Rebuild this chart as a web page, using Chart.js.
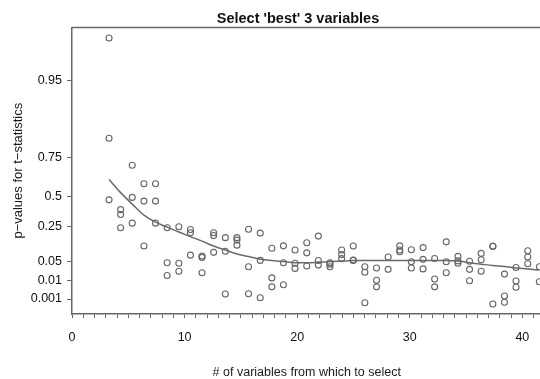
<!DOCTYPE html>
<html>
<head>
<meta charset="utf-8">
<script src="https://cdn.jsdelivr.net/npm/chart.js@4.4.1/dist/chart.umd.min.js"></script>
<style>
  html, body { margin: 0; padding: 0; background: #fff; overflow: hidden; }
  #wrap { width: 596px; height: 379px; }
</style>
</head>
<body>
<div id="wrap"><canvas id="mygraph" width="596" height="379"></canvas></div>
<script>
// number of candidate variables, one column of points each (as placed in the plot)
let nVars = [3.29, 4.32, 5.35, 6.39, 7.42, 8.45, 9.49, 10.52, 11.55, 12.58,
  13.62, 14.65, 15.68, 16.72, 17.75, 18.78, 19.81, 20.85, 21.88, 22.91,
  23.95, 24.98, 26.01, 27.05, 28.08, 29.11, 30.14, 31.18, 32.21, 33.24,
  34.28, 35.31, 36.34, 37.38, 38.41, 39.44, 40.48, 41.51];

// p-values of the 3 selected variables, per column
let pValues = [
  [0.99, 0.80, 0.47], [0.39, 0.35, 0.245], [0.70, 0.49, 0.28], [0.58, 0.46, 0.14],
  [0.58, 0.46, 0.28], [0.245, 0.048, 0.021], [0.25, 0.047, 0.030], [0.235, 0.216, 0.088],
  [0.083, 0.075, 0.027], [0.216, 0.20, 0.104], [0.188, 0.11, 0.0035], [0.188, 0.174, 0.145],
  [0.236, 0.0395, 0.0036], [0.214, 0.058, 0.0016], [0.127, 0.016, 0.007], [0.141, 0.048, 0.008],
  [0.117, 0.047, 0.036], [0.159, 0.101, 0.041], [0.197, 0.057, 0.043], [0.048, 0.045, 0.0395],
  [0.117, 0.091, 0.068], [0.14, 0.06, 0.058], [0.0395, 0.028, 0.00075], [0.037, 0.011, 0.007],
  [0.077, 0.034], [0.141, 0.117, 0.107], [0.119, 0.05, 0.037], [0.131, 0.064, 0.035],
  [0.069, 0.0136, 0.007], [0.164, 0.05, 0.027], [0.081, 0.055, 0.047], [0.053, 0.034, 0.01],
  [0.098, 0.062, 0.030], [0.14, 0.137, 0.00067], [0.024, 0.0025, 0.00078], [0.038, 0.0099, 0.0068],
  [0.113, 0.077, 0.046], [0.0395, 0.0095]
];

// smooth fitted curve through the columns
let fitted = [0.608, 0.523, 0.435, 0.345, 0.288, 0.248, 0.22, 0.194, 0.168, 0.14,
  0.117, 0.094, 0.080, 0.065, 0.057, 0.051, 0.048, 0.048, 0.049, 0.051,
  0.054, 0.057, 0.058, 0.058, 0.058, 0.058, 0.058, 0.058, 0.058, 0.058,
  0.054, 0.048, 0.045, 0.042, 0.040, 0.037, 0.035, 0.0325];

let yTickP = [0.001, 0.01, 0.05, 0.25, 0.5, 0.75, 0.95];
let yTickLabels = ["0.001", "0.01", "0.05", "0.25", "0.5", "0.75", "0.95"];
let xTickLabels = [0, 10, 20, 30, 40];

// the y axis is a stretched p-value scale: knots of p -> axis fraction
let scaleP = [0, 0.001, 0.01, 0.05, 0.25, 0.5, 0.75, 0.95, 1];
let scaleT = [0, 0.0523, 0.116, 0.1822, 0.3042, 0.4111, 0.546, 0.8153, 1];

function toAxis(p) {
  for (let i = 1; i < scaleP.length; i++) {
    if (p <= scaleP[i]) {
      let f = (p - scaleP[i - 1]) / (scaleP[i] - scaleP[i - 1]);
      return scaleT[i - 1] + f * (scaleT[i] - scaleT[i - 1]);
    }
  }
  return 1;
}

var points = [];
nVars.forEach(function (x, i) {
  pValues[i].forEach(function (p) { points.push({ x: x, y: toAxis(p) }); });
});
var curve = nVars.map(function (x, i) { return { x: x, y: toAxis(fitted[i]) }; });

var topLine = {
  id: "topLine",
  afterDraw: function (chart) {
    var a = chart.chartArea, c = chart.ctx;
    c.save();
    c.strokeStyle = "#666";
    c.lineWidth = 1.5;
    c.beginPath();
    c.moveTo(a.left, a.top);
    c.lineTo(a.right, a.top);
    c.stroke();
    c.restore();
  }
};

var font = "'Liberation Sans', Arial, Helvetica, sans-serif";
var ctx = document.getElementById("mygraph");

var mygraph = new Chart(ctx, {
  type: "scatter",
  data: {
    datasets: [
      {
        data: points,
        pointStyle: "circle",
        pointRadius: 3,
        pointBorderWidth: 1.1,
        pointBorderColor: "#666",
        pointBackgroundColor: "rgba(0,0,0,0)",
        showLine: false,
        clip: false
      },
      {
        data: curve,
        showLine: true,
        borderColor: "#6a6a6a",
        borderWidth: 1.5,
        pointRadius: 0,
        tension: 0.4,
        cubicInterpolationMode: "monotone",
        clip: false
      }
    ]
  },
  options: {
    responsive: false,
    animation: false,
    events: [],
    layout: { padding: 0 },
    plugins: {
      legend: { display: false },
      tooltip: { enabled: false },
      title: {
        display: true,
        text: "Select 'best' 3 variables",
        color: "#111",
        font: { family: font, size: 14.5, weight: "bold" },
        padding: { top: 10, bottom: 0 }
      }
    },
    scales: {
      x: {
        type: "linear",
        min: 0,
        max: 41.7,
        afterFit: function (s) { s.height = 65; },
        border: { display: true, color: "#666", width: 1.5 },
        grid: { drawOnChartArea: false, drawTicks: true, tickLength: 4, color: "#666" },
        ticks: {
          stepSize: 1,
          autoSkip: false,
          includeBounds: false,
          maxRotation: 0,
          padding: 12,
          color: "#111",
          font: { family: font, size: 12.5 },
          callback: function (v) { return xTickLabels.indexOf(v) >= 0 ? String(v) : ""; }
        },
        title: {
          display: true,
          text: "# of variables from which to select",
          color: "#1a1a1a",
          font: { family: font, size: 12.5 },
          padding: { top: 0, bottom: -1 }
        }
      },
      y: {
        type: "linear",
        min: 0,
        max: 1,
        afterFit: function (s) { s.width = 72; },
        afterBuildTicks: function (s) {
          s.ticks = yTickP.map(function (p) { return { value: toAxis(p) }; });
        },
        border: { display: true, color: "#666", width: 1.5 },
        grid: { drawOnChartArea: false, drawTicks: true, tickLength: 5, color: "#666" },
        ticks: {
          autoSkip: false,
          padding: 5,
          color: "#111",
          font: { family: font, size: 12.5 },
          callback: function (v, i) { return yTickLabels[i]; }
        },
        title: {
          display: true,
          text: "p\u2212values for t\u2212statistics",
          color: "#1a1a1a",
          font: { family: font, size: 13 },
          padding: { top: 11, bottom: 0 }
        }
      },
      // empty right-hand margin of the plot (outside the window)
      yRight: {
        type: "linear",
        position: "right",
        min: 0,
        max: 1,
        afterFit: function (s) { s.width = 54.5; },
        border: { display: false },
        grid: { display: false },
        ticks: { display: false }
      }
    }
  },
  plugins: [topLine]
});
</script>
</body>
</html>
